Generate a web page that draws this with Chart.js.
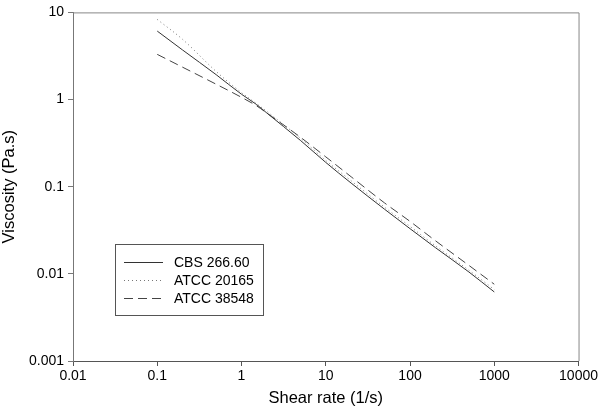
<!DOCTYPE html>
<html><head><meta charset="utf-8">
<script src="https://cdn.jsdelivr.net/npm/chart.js@4"></script>
<style>html,body{margin:0;padding:0;background:#fff}#wrap{width:600px;height:408px}</style>
</head><body><div id="wrap"><canvas id="c" width="600" height="408"></canvas></div>
<script>
const shearRate = [0.1, 0.2, 0.5, 1, 1.5, 2, 5, 10, 20, 50, 100, 200, 500, 1000];
const cbs26660 = [6.1, 3.7, 1.93, 1.15, 0.88, 0.7, 0.34, 0.19, 0.11, 0.055, 0.033, 0.02, 0.0105, 0.0062];
const atcc20165 = [8.3, 4.9, 2.1, 1.2, 0.9, 0.73, 0.36, 0.2, 0.117, 0.058, 0.035, 0.021, 0.011, 0.0066];
const atcc38548 = [3.3, 2.35, 1.5, 1.06, 0.85, 0.7, 0.37, 0.22, 0.13, 0.065, 0.04, 0.024, 0.0125, 0.0076];
const seriesNames = ['CBS 266.60', 'ATCC 20165', 'ATCC 38548'];
const xTicks = [0.01, 0.1, 1, 10, 100, 1000, 10000];
const yTicks = [0.001, 0.01, 0.1, 1, 10];

const pts = arr => shearRate.map((x, i) => ({x, y: arr[i]}));
const FONT = 'Liberation Sans, Arial, sans-serif';

const frame = {
  id: 'frame',
  afterDatasetsDraw(chart) {
    const {ctx, chartArea: a} = chart;
    ctx.save();
    ctx.strokeStyle = '#888';
    ctx.lineWidth = 1;
    ctx.beginPath();
    ctx.moveTo(a.left, a.top + 0.5);
    ctx.lineTo(a.right + 0.5, a.top + 0.5);
    ctx.lineTo(a.right + 0.5, a.bottom);
    ctx.stroke();
    // legend
    const lx = 115.5, ly = 244.5, lw = 148, lh = 71;
    ctx.strokeStyle = '#555';
    ctx.fillStyle = '#fff';
    ctx.fillRect(lx, ly, lw, lh);
    ctx.strokeRect(lx, ly, lw, lh);
    const rows = [262, 280, 298];
    chart.data.datasets.forEach((ds, i) => {
      ctx.strokeStyle = ds.borderColor;
      ctx.lineWidth = 1;
      ctx.setLineDash(ds.borderDash || []);
      ctx.beginPath();
      ctx.moveTo(124, rows[i] + 0.5);
      ctx.lineTo(163, rows[i] + 0.5);
      ctx.stroke();
      ctx.setLineDash([]);
      ctx.fillStyle = '#000';
      ctx.font = '14px ' + FONT;
      ctx.textBaseline = 'middle';
      ctx.textAlign = 'left';
      ctx.fillText(ds.label, 174, rows[i] + 1);
    });
    ctx.restore();
  }
};

new Chart(document.getElementById('c'), {
  type: 'line',
  data: {
    datasets: [
      {label: seriesNames[0], data: pts(cbs26660), borderColor: '#333', borderWidth: 1, pointRadius: 0, cubicInterpolationMode: 'monotone'},
      {label: seriesNames[1], data: pts(atcc20165), borderColor: '#777', borderWidth: 1, borderDash: [1, 3], pointRadius: 0, cubicInterpolationMode: 'monotone'},
      {label: seriesNames[2], data: pts(atcc38548), borderColor: '#444', borderWidth: 1, borderDash: [9, 5], pointRadius: 0, cubicInterpolationMode: 'monotone'}
    ]
  },
  options: {
    responsive: false,
    animation: false,
    layout: {padding: {top: 6, right: 20, left: 0, bottom: 0}},
    plugins: {legend: {display: false}, tooltip: {enabled: false}},
    scales: {
      x: {
        type: 'logarithmic', min: 0.01, max: 10000,
        afterBuildTicks: s => { s.ticks = xTicks.map(v => ({value: v})); },
        afterFit: s => { s.height = 47; },
        ticks: {callback: v => String(v), color: '#000', font: {size: 14, family: FONT}, padding: 2, maxRotation: 0, autoSkip: false},
        grid: {drawOnChartArea: false, drawTicks: true, tickLength: 5, color: '#555'},
        border: {display: true, color: '#555'},
        title: {display: true, text: 'Shear rate (1/s)', color: '#000', font: {size: 16.5, family: FONT}, padding: {top: 1, bottom: 0}}
      },
      y: {
        type: 'logarithmic', min: 0.001, max: 10,
        afterBuildTicks: s => { s.ticks = yTicks.map(v => ({value: v})); },
        afterFit: s => { s.width = 73; },
        ticks: {callback: v => String(v), color: '#000', font: {size: 14, family: FONT}, padding: 4, autoSkip: false},
        grid: {drawOnChartArea: false, drawTicks: true, tickLength: 5, color: '#777'},
        border: {display: true, color: '#777'},
        title: {display: true, text: 'Viscosity (Pa.s)', color: '#000', font: {size: 16.5, family: FONT}, padding: {top: 0, bottom: 0}}
      }
    }
  },
  plugins: [frame]
});
</script></body></html>
